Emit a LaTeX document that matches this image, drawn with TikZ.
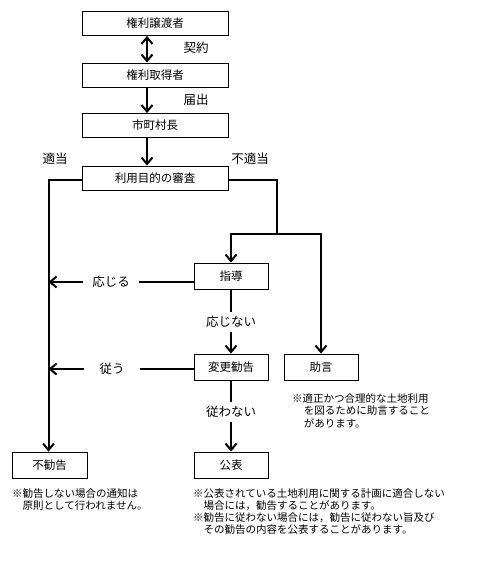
\documentclass[tikz,border=0pt]{standalone}
\usepackage{fontspec}
\setmainfont{Noto Sans CJK JP}
\usetikzlibrary{arrows.meta}
\begin{document}
\begin{tikzpicture}[x=1pt,y=-1pt,
  box/.style={draw, line width=0.9pt, inner sep=0pt, font=\fontsize{11.5}{13}\selectfont},
  topbox/.style={box, minimum width=146pt, minimum height=24pt},
  midbox/.style={box, minimum width=74pt, minimum height=26pt},
  lbl/.style={inner sep=0pt, font=\fontsize{12.5}{14}\selectfont},
  note/.style={inner sep=0pt, anchor=north west, align=left, font=\fontsize{10.5}{12.3}\selectfont},
  conn/.style={line width=2pt},
  arr/.style={conn, -{Straight Barb[length=6.5pt,width=11pt]}},
  dbl/.style={conn, {Straight Barb[length=6.5pt,width=11pt]}-{Straight Barb[length=6.5pt,width=11pt]}}
]
\fill[white] (0,0) rectangle (489,585);
\useasboundingbox (0,0) rectangle (489,585);

% boxes
\node[topbox] (b1) at (155,23.5) {権利譲渡者};
\node[topbox] (b2) at (155,75) {権利取得者};
\node[topbox] (b3) at (155,125.5) {市町村長};
\node[topbox] (b4) at (155,178) {利用目的の審査};
\node[midbox] (sd) at (231,276) {指導};
\node[midbox] (hk) at (231,367) {変更勧告};
\node[midbox] (jg) at (321,367) {助言};
\node[midbox, minimum width=75pt] (fk) at (49.5,465) {不勧告};
\node[midbox] (kh) at (231,465) {公表};

% top connectors
\node[lbl] (ky) at (196,48) {契約};
\node[lbl] (td) at (196,100) {届出};
\draw[dbl] ([xshift=-8pt]b1.south) -- ([xshift=-8pt]b2.north);
\draw[arr] ([xshift=-8pt]b2.south) -- ([xshift=-8pt]b3.north);
\draw[arr] ([xshift=-8pt]b3.south) -- ([xshift=-8pt]b4.north);

% branches
\node[lbl] (tt) at (55,159) {適当};
\node[lbl] (ftt) at (250,159) {不適当};
\coordinate (L) at (48.5,180);
\draw[arr] (b4.west |- L) -- (L) -- (L |- fk.north);
\coordinate (R) at (277,180);
\coordinate (RJ) at (277,234);
\draw[conn] (b4.east |- R) -- (R) -- (RJ);
\draw[arr] (RJ) -| (sd.north);
\draw[arr] (RJ) -| (jg.north);

% from 指導
\node[lbl, inner xsep=9pt] (oj) at (111,282) {応じる};
\draw[conn] (sd.west |- oj) -- (oj.east);
\draw[arr] (oj.west) -- (oj.west -| L);
\node[lbl, inner ysep=4pt] (ojn) at (231,322) {応じない};
\draw[conn] (sd.south) -- (ojn.north);
\draw[arr] (ojn.south) -- (hk.north);

% from 変更勧告
\node[lbl, inner xsep=15pt] (sh) at (112,369) {従う};
\draw[conn] (hk.west |- sh) -- (sh.east);
\draw[arr] (sh.west) -- (sh.west -| L);
\node[lbl, inner ysep=4pt] (swn) at (231,412) {従わない};
\draw[conn] (hk.south) -- (swn.north);
\draw[arr] (swn.south) -- (kh.north);

% notes
\node[note] (n1) at (292,393.5) {※適正かつ合理的な土地利用\\\hspace*{1.1em}を図るために助言すること\\\hspace*{1.1em}があります。};
\node[note] (n2) at (12,488) {※勧告しない場合の通知は\\\hspace*{1em}原則として行われません。};
\node[note] (n3) at (193,488) {※公表されている土地利用に関する計画に適合しない\\\hspace*{1em}場合には，勧告することがあります。\\※勧告に従わない場合には，勧告に従わない旨及び\\\hspace*{1em}その勧告の内容を公表することがあります。};
\end{tikzpicture}
\end{document}
